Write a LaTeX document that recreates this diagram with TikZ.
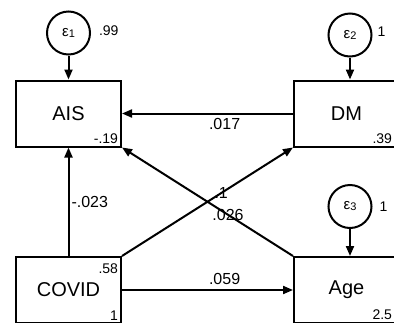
\documentclass[tikz,border=0pt]{standalone}
\usepackage{fontspec}
\setmainfont{Liberation Sans}
\usetikzlibrary{arrows.meta, positioning}

\begin{document}
\begin{tikzpicture}[x=1pt, y=-1pt, >={Triangle[length=10pt, width=8pt]}, line width=2pt,
    obs/.style={draw, rectangle, minimum width=105pt, minimum height=66pt, inner sep=0pt, font=\fontsize{20}{24}\selectfont},
    resid/.style={draw, circle, minimum size=43pt, inner sep=0pt, font=\fontsize{15}{18}\selectfont},
    coef/.style={font=\fontsize{16}{19}\selectfont, inner sep=2pt},
    est/.style={font=\fontsize{14}{16}\selectfont, inner sep=3pt}]
\useasboundingbox (0,0) rectangle (394,322);
\clip (0,0) rectangle (394,322);

% observed variables
\node[obs] (ais) at (68.5,113.5) {AIS};
\node[obs] (dm) at (346.5,113.5) {DM};
\node[obs] (covid) at (68.5,290) {COVID};
\node[obs] (age) at (346.5,290) {Age};

% error terms
\node[resid, above=24pt of ais] (e1) {ε\raisebox{-1pt}{\fontsize{11}{11}\selectfont 1}};
\node[resid, above=22pt of dm, xshift=3.5pt] (e2) {ε\raisebox{-1pt}{\fontsize{11}{11}\selectfont 2}};
\node[resid, above=27pt of age, xshift=3.5pt] (e3) {ε\raisebox{-1pt}{\fontsize{11}{11}\selectfont 3}};

% variances and intercepts
\node[est, right=4pt of e1, yshift=2pt] (v1) {.99};
\node[est, right=1pt of e2, yshift=3pt] (v2) {1};
\node[est, right=3pt of e3] (v3) {1};
\node[est, anchor=south east] (c1) at (ais.south east) {-.19};
\node[est, anchor=south east, xshift=-4pt] (c2) at (dm.south east) {.39};
\node[est, anchor=south east, xshift=-4pt] (c3) at (age.south east) {2.5};
\node[est, anchor=north east, yshift=-4pt] (c4) at (covid.north east) {.58};
\node[est, anchor=south east] (c5) at (covid.south east) {1};

% paths
\draw[->] (e1) -- (ais);
\draw[->] (e2) -- (e2 |- dm.north);
\draw[->] (e3) -- (e3 |- age.north);
\draw[->] (dm) -- node[coef, below, pos=0.4, yshift=-2pt] (p1) {.017} (ais);
\draw[->] (covid) -- node[coef, right, pos=0.5] (p2) {-.023} (ais);
\draw[->] (covid.north east) -- node[coef, pos=0.58] (p3) {.1} (dm.south west);
\draw[->] (age.north west) -- node[coef, pos=0.38] (p4) {.026} (ais.south east);
\draw[->] (covid) -- node[coef, above, pos=0.6, inner sep=4pt] (p5) {.059} (covid -| age.west);
\end{tikzpicture}
\end{document}
